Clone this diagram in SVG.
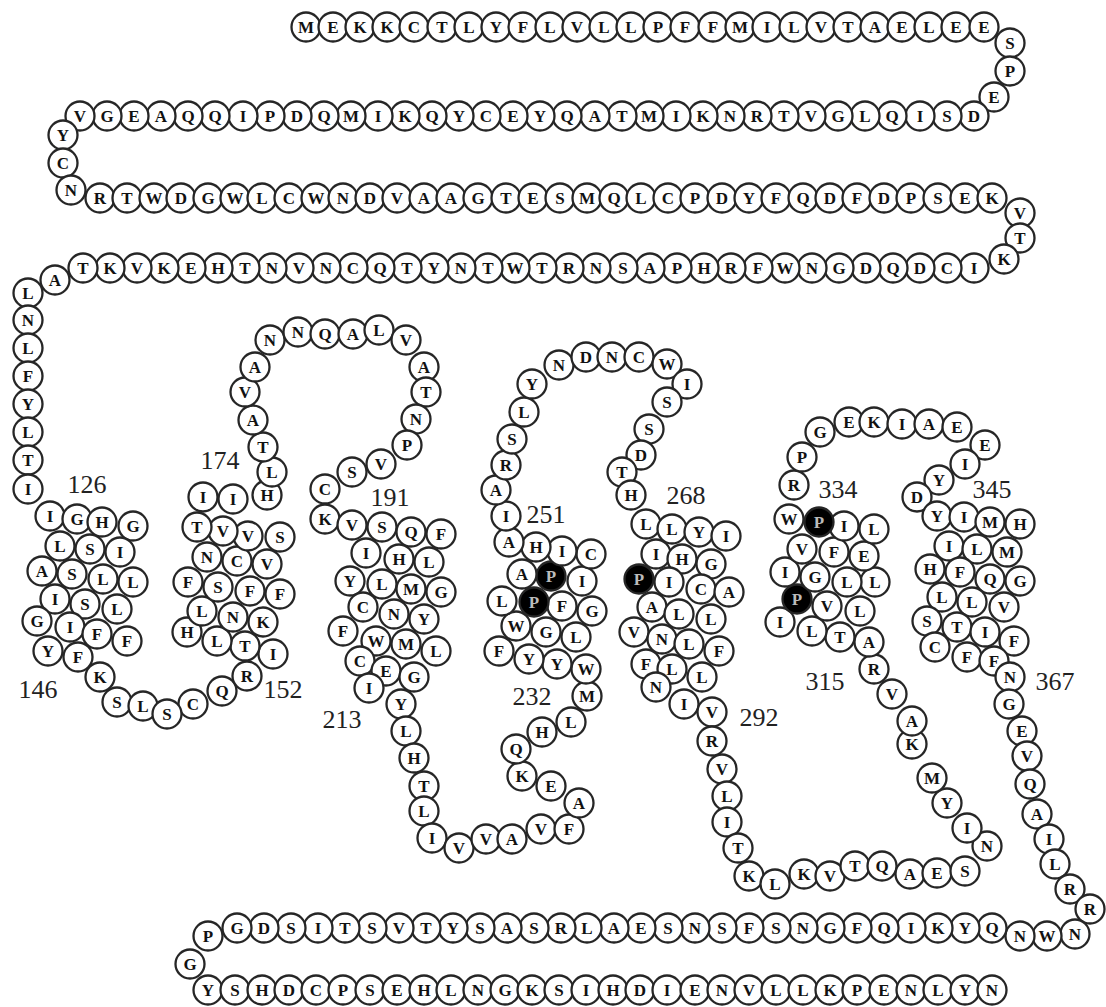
<svg xmlns="http://www.w3.org/2000/svg" width="1106" height="1007" viewBox="0 0 1106 1007">
<style>
circle{fill:#fff;stroke:#262626;stroke-width:2.3}
text{font-family:"Liberation Serif",serif;font-weight:bold;font-size:17px;text-anchor:middle;dominant-baseline:central;fill:#111}
.b circle{fill:#000}
.b text{fill:#bbb}
.l{font-weight:normal;font-size:26px;fill:#222}
</style>
<rect width="1106" height="1007" fill="#fff"/>
<g id="connectors"></g>
<g id="residues">
<g id="r1" transform="translate(306 27)"><circle r="14.5"/><text>M</text></g>
<g id="r2" transform="translate(333 27)"><circle r="14.5"/><text>E</text></g>
<g id="r3" transform="translate(360 27)"><circle r="14.5"/><text>K</text></g>
<g id="r4" transform="translate(387 27)"><circle r="14.5"/><text>K</text></g>
<g id="r5" transform="translate(414 27)"><circle r="14.5"/><text>C</text></g>
<g id="r6" transform="translate(442 27)"><circle r="14.5"/><text>T</text></g>
<g id="r7" transform="translate(469 27)"><circle r="14.5"/><text>L</text></g>
<g id="r8" transform="translate(496 27)"><circle r="14.5"/><text>Y</text></g>
<g id="r9" transform="translate(523 27)"><circle r="14.5"/><text>F</text></g>
<g id="r10" transform="translate(550 27)"><circle r="14.5"/><text>L</text></g>
<g id="r11" transform="translate(577 27)"><circle r="14.5"/><text>V</text></g>
<g id="r12" transform="translate(604 27)"><circle r="14.5"/><text>L</text></g>
<g id="r13" transform="translate(631 27)"><circle r="14.5"/><text>L</text></g>
<g id="r14" transform="translate(658 27)"><circle r="14.5"/><text>P</text></g>
<g id="r15" transform="translate(685 27)"><circle r="14.5"/><text>F</text></g>
<g id="r16" transform="translate(713 27)"><circle r="14.5"/><text>F</text></g>
<g id="r17" transform="translate(740 27)"><circle r="14.5"/><text>M</text></g>
<g id="r18" transform="translate(767 27)"><circle r="14.5"/><text>I</text></g>
<g id="r19" transform="translate(794 27)"><circle r="14.5"/><text>L</text></g>
<g id="r20" transform="translate(821 27)"><circle r="14.5"/><text>V</text></g>
<g id="r21" transform="translate(848 27)"><circle r="14.5"/><text>T</text></g>
<g id="r22" transform="translate(875 27)"><circle r="14.5"/><text>A</text></g>
<g id="r23" transform="translate(902 27)"><circle r="14.5"/><text>E</text></g>
<g id="r24" transform="translate(929 27)"><circle r="14.5"/><text>L</text></g>
<g id="r25" transform="translate(956 27)"><circle r="14.5"/><text>E</text></g>
<g id="r26" transform="translate(984 27)"><circle r="14.5"/><text>E</text></g>
<g id="r27" transform="translate(1010 43)"><circle r="14.5"/><text>S</text></g>
<g id="r28" transform="translate(1010 71)"><circle r="14.5"/><text>P</text></g>
<g id="r29" transform="translate(994 97)"><circle r="14.5"/><text>E</text></g>
<g id="r30" transform="translate(974 116)"><circle r="14.5"/><text>D</text></g>
<g id="r31" transform="translate(947 116)"><circle r="14.5"/><text>S</text></g>
<g id="r32" transform="translate(920 116)"><circle r="14.5"/><text>I</text></g>
<g id="r33" transform="translate(892 116)"><circle r="14.5"/><text>Q</text></g>
<g id="r34" transform="translate(865 116)"><circle r="14.5"/><text>L</text></g>
<g id="r35" transform="translate(838 116)"><circle r="14.5"/><text>G</text></g>
<g id="r36" transform="translate(811 116)"><circle r="14.5"/><text>V</text></g>
<g id="r37" transform="translate(784 116)"><circle r="14.5"/><text>T</text></g>
<g id="r38" transform="translate(757 116)"><circle r="14.5"/><text>R</text></g>
<g id="r39" transform="translate(730 116)"><circle r="14.5"/><text>N</text></g>
<g id="r40" transform="translate(703 116)"><circle r="14.5"/><text>K</text></g>
<g id="r41" transform="translate(676 116)"><circle r="14.5"/><text>I</text></g>
<g id="r42" transform="translate(649 116)"><circle r="14.5"/><text>M</text></g>
<g id="r43" transform="translate(622 116)"><circle r="14.5"/><text>T</text></g>
<g id="r44" transform="translate(595 116)"><circle r="14.5"/><text>A</text></g>
<g id="r45" transform="translate(567 116)"><circle r="14.5"/><text>Q</text></g>
<g id="r46" transform="translate(540 116)"><circle r="14.5"/><text>Y</text></g>
<g id="r47" transform="translate(513 116)"><circle r="14.5"/><text>E</text></g>
<g id="r48" transform="translate(486 116)"><circle r="14.5"/><text>C</text></g>
<g id="r49" transform="translate(459 116)"><circle r="14.5"/><text>Y</text></g>
<g id="r50" transform="translate(432 116)"><circle r="14.5"/><text>Q</text></g>
<g id="r51" transform="translate(405 116)"><circle r="14.5"/><text>K</text></g>
<g id="r52" transform="translate(378 116)"><circle r="14.5"/><text>I</text></g>
<g id="r53" transform="translate(351 116)"><circle r="14.5"/><text>M</text></g>
<g id="r54" transform="translate(324 116)"><circle r="14.5"/><text>Q</text></g>
<g id="r55" transform="translate(297 116)"><circle r="14.5"/><text>D</text></g>
<g id="r56" transform="translate(270 116)"><circle r="14.5"/><text>P</text></g>
<g id="r57" transform="translate(243 116)"><circle r="14.5"/><text>I</text></g>
<g id="r58" transform="translate(215 116)"><circle r="14.5"/><text>Q</text></g>
<g id="r59" transform="translate(188 116)"><circle r="14.5"/><text>Q</text></g>
<g id="r60" transform="translate(161 116)"><circle r="14.5"/><text>A</text></g>
<g id="r61" transform="translate(134 116)"><circle r="14.5"/><text>E</text></g>
<g id="r62" transform="translate(107 116)"><circle r="14.5"/><text>G</text></g>
<g id="r63" transform="translate(80 116)"><circle r="14.5"/><text>V</text></g>
<g id="r64" transform="translate(63 135)"><circle r="14.5"/><text>Y</text></g>
<g id="r65" transform="translate(63 163)"><circle r="14.5"/><text>C</text></g>
<g id="r66" transform="translate(71 190)"><circle r="14.5"/><text>N</text></g>
<g id="r67" transform="translate(100 198)"><circle r="14.5"/><text>R</text></g>
<g id="r68" transform="translate(127 198)"><circle r="14.5"/><text>T</text></g>
<g id="r69" transform="translate(154 198)"><circle r="14.5"/><text>W</text></g>
<g id="r70" transform="translate(181 198)"><circle r="14.5"/><text>D</text></g>
<g id="r71" transform="translate(208 198)"><circle r="14.5"/><text>G</text></g>
<g id="r72" transform="translate(235 198)"><circle r="14.5"/><text>W</text></g>
<g id="r73" transform="translate(262 198)"><circle r="14.5"/><text>L</text></g>
<g id="r74" transform="translate(289 198)"><circle r="14.5"/><text>C</text></g>
<g id="r75" transform="translate(316 198)"><circle r="14.5"/><text>W</text></g>
<g id="r76" transform="translate(343 198)"><circle r="14.5"/><text>N</text></g>
<g id="r77" transform="translate(370 198)"><circle r="14.5"/><text>D</text></g>
<g id="r78" transform="translate(397 198)"><circle r="14.5"/><text>V</text></g>
<g id="r79" transform="translate(424 198)"><circle r="14.5"/><text>A</text></g>
<g id="r80" transform="translate(451 198)"><circle r="14.5"/><text>A</text></g>
<g id="r81" transform="translate(478 198)"><circle r="14.5"/><text>G</text></g>
<g id="r82" transform="translate(506 198)"><circle r="14.5"/><text>T</text></g>
<g id="r83" transform="translate(533 198)"><circle r="14.5"/><text>E</text></g>
<g id="r84" transform="translate(560 198)"><circle r="14.5"/><text>S</text></g>
<g id="r85" transform="translate(587 198)"><circle r="14.5"/><text>M</text></g>
<g id="r86" transform="translate(614 198)"><circle r="14.5"/><text>Q</text></g>
<g id="r87" transform="translate(641 198)"><circle r="14.5"/><text>L</text></g>
<g id="r88" transform="translate(668 198)"><circle r="14.5"/><text>C</text></g>
<g id="r89" transform="translate(695 198)"><circle r="14.5"/><text>P</text></g>
<g id="r90" transform="translate(722 198)"><circle r="14.5"/><text>D</text></g>
<g id="r91" transform="translate(749 198)"><circle r="14.5"/><text>Y</text></g>
<g id="r92" transform="translate(776 198)"><circle r="14.5"/><text>F</text></g>
<g id="r93" transform="translate(803 198)"><circle r="14.5"/><text>Q</text></g>
<g id="r94" transform="translate(830 198)"><circle r="14.5"/><text>D</text></g>
<g id="r95" transform="translate(857 198)"><circle r="14.5"/><text>F</text></g>
<g id="r96" transform="translate(884 198)"><circle r="14.5"/><text>D</text></g>
<g id="r97" transform="translate(911 198)"><circle r="14.5"/><text>P</text></g>
<g id="r98" transform="translate(938 198)"><circle r="14.5"/><text>S</text></g>
<g id="r99" transform="translate(965 198)"><circle r="14.5"/><text>E</text></g>
<g id="r100" transform="translate(992 198)"><circle r="14.5"/><text>K</text></g>
<g id="r101" transform="translate(1020 213)"><circle r="14.5"/><text>V</text></g>
<g id="r102" transform="translate(1020 238)"><circle r="14.5"/><text>T</text></g>
<g id="r103" transform="translate(1004 259)"><circle r="14.5"/><text>K</text></g>
<g id="r104" transform="translate(974 268)"><circle r="14.5"/><text>I</text></g>
<g id="r105" transform="translate(947 268)"><circle r="14.5"/><text>C</text></g>
<g id="r106" transform="translate(920 268)"><circle r="14.5"/><text>D</text></g>
<g id="r107" transform="translate(893 268)"><circle r="14.5"/><text>Q</text></g>
<g id="r108" transform="translate(866 268)"><circle r="14.5"/><text>D</text></g>
<g id="r109" transform="translate(839 268)"><circle r="14.5"/><text>G</text></g>
<g id="r110" transform="translate(812 268)"><circle r="14.5"/><text>N</text></g>
<g id="r111" transform="translate(785 268)"><circle r="14.5"/><text>W</text></g>
<g id="r112" transform="translate(758 268)"><circle r="14.5"/><text>F</text></g>
<g id="r113" transform="translate(731 268)"><circle r="14.5"/><text>R</text></g>
<g id="r114" transform="translate(704 268)"><circle r="14.5"/><text>H</text></g>
<g id="r115" transform="translate(677 268)"><circle r="14.5"/><text>P</text></g>
<g id="r116" transform="translate(650 268)"><circle r="14.5"/><text>A</text></g>
<g id="r117" transform="translate(623 268)"><circle r="14.5"/><text>S</text></g>
<g id="r118" transform="translate(596 268)"><circle r="14.5"/><text>N</text></g>
<g id="r119" transform="translate(569 268)"><circle r="14.5"/><text>R</text></g>
<g id="r120" transform="translate(542 268)"><circle r="14.5"/><text>T</text></g>
<g id="r121" transform="translate(515 268)"><circle r="14.5"/><text>W</text></g>
<g id="r122" transform="translate(488 268)"><circle r="14.5"/><text>T</text></g>
<g id="r123" transform="translate(461 268)"><circle r="14.5"/><text>N</text></g>
<g id="r124" transform="translate(434 268)"><circle r="14.5"/><text>Y</text></g>
<g id="r125" transform="translate(407 268)"><circle r="14.5"/><text>T</text></g>
<g id="r126" transform="translate(380 268)"><circle r="14.5"/><text>Q</text></g>
<g id="r127" transform="translate(353 268)"><circle r="14.5"/><text>C</text></g>
<g id="r128" transform="translate(326 268)"><circle r="14.5"/><text>N</text></g>
<g id="r129" transform="translate(299 268)"><circle r="14.5"/><text>V</text></g>
<g id="r130" transform="translate(272 268)"><circle r="14.5"/><text>N</text></g>
<g id="r131" transform="translate(245 268)"><circle r="14.5"/><text>T</text></g>
<g id="r132" transform="translate(218 268)"><circle r="14.5"/><text>H</text></g>
<g id="r133" transform="translate(191 268)"><circle r="14.5"/><text>E</text></g>
<g id="r134" transform="translate(164 268)"><circle r="14.5"/><text>K</text></g>
<g id="r135" transform="translate(137 268)"><circle r="14.5"/><text>V</text></g>
<g id="r136" transform="translate(110 268)"><circle r="14.5"/><text>K</text></g>
<g id="r137" transform="translate(83 268)"><circle r="14.5"/><text>T</text></g>
<g id="r138" transform="translate(55 280)"><circle r="14.5"/><text>A</text></g>
<g id="r139" transform="translate(28 293)"><circle r="14.5"/><text>L</text></g>
<g id="r140" transform="translate(28 320)"><circle r="14.5"/><text>N</text></g>
<g id="r141" transform="translate(28 348)"><circle r="14.5"/><text>L</text></g>
<g id="r142" transform="translate(28 376)"><circle r="14.5"/><text>F</text></g>
<g id="r143" transform="translate(28 404)"><circle r="14.5"/><text>Y</text></g>
<g id="r144" transform="translate(28 432)"><circle r="14.5"/><text>L</text></g>
<g id="r145" transform="translate(28 460)"><circle r="14.5"/><text>T</text></g>
<g id="r146" transform="translate(28 489)"><circle r="14.5"/><text>I</text></g>
<g id="r147" transform="translate(50 516)"><circle r="14.5"/><text>I</text></g>
<g id="r148" transform="translate(77 519)"><circle r="14.5"/><text>G</text></g>
<g id="r149" transform="translate(133 526)"><circle r="14.5"/><text>G</text></g>
<g id="r150" transform="translate(102 522)"><circle r="14.5"/><text>H</text></g>
<g id="r151" transform="translate(60 546)"><circle r="14.5"/><text>L</text></g>
<g id="r152" transform="translate(90 549)"><circle r="14.5"/><text>S</text></g>
<g id="r153" transform="translate(120 552)"><circle r="14.5"/><text>I</text></g>
<g id="r154" transform="translate(42 571)"><circle r="14.5"/><text>A</text></g>
<g id="r155" transform="translate(72 574)"><circle r="14.5"/><text>S</text></g>
<g id="r156" transform="translate(103 579)"><circle r="14.5"/><text>L</text></g>
<g id="r157" transform="translate(133 582)"><circle r="14.5"/><text>L</text></g>
<g id="r158" transform="translate(55 599)"><circle r="14.5"/><text>I</text></g>
<g id="r159" transform="translate(85 604)"><circle r="14.5"/><text>S</text></g>
<g id="r160" transform="translate(117 609)"><circle r="14.5"/><text>L</text></g>
<g id="r161" transform="translate(37 621)"><circle r="14.5"/><text>G</text></g>
<g id="r162" transform="translate(70 627)"><circle r="14.5"/><text>I</text></g>
<g id="r163" transform="translate(97 634)"><circle r="14.5"/><text>F</text></g>
<g id="r164" transform="translate(127 641)"><circle r="14.5"/><text>F</text></g>
<g id="r165" transform="translate(48 651)"><circle r="14.5"/><text>Y</text></g>
<g id="r166" transform="translate(78 657)"><circle r="14.5"/><text>F</text></g>
<g id="r167" transform="translate(100 677)"><circle r="14.5"/><text>K</text></g>
<g id="r168" transform="translate(117 702)"><circle r="14.5"/><text>S</text></g>
<g id="r169" transform="translate(143 706)"><circle r="14.5"/><text>L</text></g>
<g id="r171" transform="translate(193 704)"><circle r="14.5"/><text>C</text></g>
<g id="r170" transform="translate(167 714)"><circle r="14.5"/><text>S</text></g>
<g id="r172" transform="translate(222 691)"><circle r="14.5"/><text>Q</text></g>
<g id="r173" transform="translate(247 676)"><circle r="14.5"/><text>R</text></g>
<g id="r174" transform="translate(273 654)"><circle r="14.5"/><text>I</text></g>
<g id="r175" transform="translate(245 646)"><circle r="14.5"/><text>T</text></g>
<g id="r176" transform="translate(217 641)"><circle r="14.5"/><text>L</text></g>
<g id="r177" transform="translate(187 632)"><circle r="14.5"/><text>H</text></g>
<g id="r178" transform="translate(263 622)"><circle r="14.5"/><text>K</text></g>
<g id="r179" transform="translate(233 617)"><circle r="14.5"/><text>N</text></g>
<g id="r180" transform="translate(202 611)"><circle r="14.5"/><text>L</text></g>
<g id="r181" transform="translate(280 594)"><circle r="14.5"/><text>F</text></g>
<g id="r182" transform="translate(250 591)"><circle r="14.5"/><text>F</text></g>
<g id="r183" transform="translate(218 587)"><circle r="14.5"/><text>S</text></g>
<g id="r184" transform="translate(188 582)"><circle r="14.5"/><text>F</text></g>
<g id="r185" transform="translate(267 564)"><circle r="14.5"/><text>V</text></g>
<g id="r186" transform="translate(237 561)"><circle r="14.5"/><text>C</text></g>
<g id="r187" transform="translate(207 557)"><circle r="14.5"/><text>N</text></g>
<g id="r188" transform="translate(280 537)"><circle r="14.5"/><text>S</text></g>
<g id="r189" transform="translate(248 536)"><circle r="14.5"/><text>V</text></g>
<g id="r190" transform="translate(223 531)"><circle r="14.5"/><text>V</text></g>
<g id="r191" transform="translate(197 527)"><circle r="14.5"/><text>T</text></g>
<g id="r192" transform="translate(203 497)"><circle r="14.5"/><text>I</text></g>
<g id="r193" transform="translate(233 499)"><circle r="14.5"/><text>I</text></g>
<g id="r194" transform="translate(267 495)"><circle r="14.5"/><text>H</text></g>
<g id="r195" transform="translate(272 472)"><circle r="14.5"/><text>L</text></g>
<g id="r196" transform="translate(263 447)"><circle r="14.5"/><text>T</text></g>
<g id="r197" transform="translate(253 420)"><circle r="14.5"/><text>A</text></g>
<g id="r198" transform="translate(245 392)"><circle r="14.5"/><text>V</text></g>
<g id="r199" transform="translate(255 367)"><circle r="14.5"/><text>A</text></g>
<g id="r200" transform="translate(270 340)"><circle r="14.5"/><text>N</text></g>
<g id="r201" transform="translate(298 332)"><circle r="14.5"/><text>N</text></g>
<g id="r202" transform="translate(325 334)"><circle r="14.5"/><text>Q</text></g>
<g id="r203" transform="translate(353 334)"><circle r="14.5"/><text>A</text></g>
<g id="r204" transform="translate(379 330)"><circle r="14.5"/><text>L</text></g>
<g id="r205" transform="translate(406 340)"><circle r="14.5"/><text>V</text></g>
<g id="r206" transform="translate(424 367)"><circle r="14.5"/><text>A</text></g>
<g id="r207" transform="translate(426 392)"><circle r="14.5"/><text>T</text></g>
<g id="r208" transform="translate(416 419)"><circle r="14.5"/><text>N</text></g>
<g id="r209" transform="translate(407 445)"><circle r="14.5"/><text>P</text></g>
<g id="r210" transform="translate(381 464)"><circle r="14.5"/><text>V</text></g>
<g id="r211" transform="translate(352 472)"><circle r="14.5"/><text>S</text></g>
<g id="r212" transform="translate(325 489)"><circle r="14.5"/><text>C</text></g>
<g id="r213" transform="translate(325 519)"><circle r="14.5"/><text>K</text></g>
<g id="r214" transform="translate(352 525)"><circle r="14.5"/><text>V</text></g>
<g id="r215" transform="translate(382 527)"><circle r="14.5"/><text>S</text></g>
<g id="r216" transform="translate(411 532)"><circle r="14.5"/><text>Q</text></g>
<g id="r217" transform="translate(441 534)"><circle r="14.5"/><text>F</text></g>
<g id="r218" transform="translate(366 553)"><circle r="14.5"/><text>I</text></g>
<g id="r219" transform="translate(399 559)"><circle r="14.5"/><text>H</text></g>
<g id="r220" transform="translate(429 562)"><circle r="14.5"/><text>L</text></g>
<g id="r221" transform="translate(350 581)"><circle r="14.5"/><text>Y</text></g>
<g id="r222" transform="translate(382 584)"><circle r="14.5"/><text>L</text></g>
<g id="r223" transform="translate(411 589)"><circle r="14.5"/><text>M</text></g>
<g id="r224" transform="translate(441 592)"><circle r="14.5"/><text>G</text></g>
<g id="r225" transform="translate(363 607)"><circle r="14.5"/><text>C</text></g>
<g id="r226" transform="translate(394 614)"><circle r="14.5"/><text>N</text></g>
<g id="r227" transform="translate(424 619)"><circle r="14.5"/><text>Y</text></g>
<g id="r228" transform="translate(343 631)"><circle r="14.5"/><text>F</text></g>
<g id="r229" transform="translate(376 641)"><circle r="14.5"/><text>W</text></g>
<g id="r230" transform="translate(406 644)"><circle r="14.5"/><text>M</text></g>
<g id="r231" transform="translate(436 651)"><circle r="14.5"/><text>L</text></g>
<g id="r232" transform="translate(360 661)"><circle r="14.5"/><text>C</text></g>
<g id="r233" transform="translate(386 671)"><circle r="14.5"/><text>E</text></g>
<g id="r234" transform="translate(414 677)"><circle r="14.5"/><text>G</text></g>
<g id="r235" transform="translate(369 688)"><circle r="14.5"/><text>I</text></g>
<g id="r236" transform="translate(401 704)"><circle r="14.5"/><text>Y</text></g>
<g id="r237" transform="translate(406 731)"><circle r="14.5"/><text>L</text></g>
<g id="r238" transform="translate(414 758)"><circle r="14.5"/><text>H</text></g>
<g id="r239" transform="translate(424 786)"><circle r="14.5"/><text>T</text></g>
<g id="r240" transform="translate(424 811)"><circle r="14.5"/><text>L</text></g>
<g id="r241" transform="translate(432 838)"><circle r="14.5"/><text>I</text></g>
<g id="r242" transform="translate(459 848)"><circle r="14.5"/><text>V</text></g>
<g id="r243" transform="translate(486 839)"><circle r="14.5"/><text>V</text></g>
<g id="r244" transform="translate(512 839)"><circle r="14.5"/><text>A</text></g>
<g id="r245" transform="translate(541 829)"><circle r="14.5"/><text>V</text></g>
<g id="r246" transform="translate(569 829)"><circle r="14.5"/><text>F</text></g>
<g id="r247" transform="translate(579 803)"><circle r="14.5"/><text>A</text></g>
<g id="r248" transform="translate(551 786)"><circle r="14.5"/><text>E</text></g>
<g id="r249" transform="translate(522 776)"><circle r="14.5"/><text>K</text></g>
<g id="r250" transform="translate(516 749)"><circle r="14.5"/><text>Q</text></g>
<g id="r251" transform="translate(542 732)"><circle r="14.5"/><text>H</text></g>
<g id="r252" transform="translate(571 722)"><circle r="14.5"/><text>L</text></g>
<g id="r253" transform="translate(587 696)"><circle r="14.5"/><text>M</text></g>
<g id="r254" transform="translate(586 669)"><circle r="14.5"/><text>W</text></g>
<g id="r255" transform="translate(557 664)"><circle r="14.5"/><text>Y</text></g>
<g id="r256" transform="translate(529 659)"><circle r="14.5"/><text>Y</text></g>
<g id="r257" transform="translate(499 651)"><circle r="14.5"/><text>F</text></g>
<g id="r258" transform="translate(576 637)"><circle r="14.5"/><text>L</text></g>
<g id="r259" transform="translate(546 632)"><circle r="14.5"/><text>G</text></g>
<g id="r260" transform="translate(516 626)"><circle r="14.5"/><text>W</text></g>
<g id="r261" transform="translate(592 611)"><circle r="14.5"/><text>G</text></g>
<g id="r262" transform="translate(562 606)"><circle r="14.5"/><text>F</text></g>
<g id="r263" class="b" transform="translate(534 602)"><circle r="14.5"/><text>P</text></g>
<g id="r264" transform="translate(502 601)"><circle r="14.5"/><text>L</text></g>
<g id="r265" transform="translate(582 581)"><circle r="14.5"/><text>I</text></g>
<g id="r266" class="b" transform="translate(551 576)"><circle r="14.5"/><text>P</text></g>
<g id="r267" transform="translate(522 574)"><circle r="14.5"/><text>A</text></g>
<g id="r268" transform="translate(591 554)"><circle r="14.5"/><text>C</text></g>
<g id="r269" transform="translate(562 551)"><circle r="14.5"/><text>I</text></g>
<g id="r270" transform="translate(536 547)"><circle r="14.5"/><text>H</text></g>
<g id="r271" transform="translate(509 542)"><circle r="14.5"/><text>A</text></g>
<g id="r272" transform="translate(506 516)"><circle r="14.5"/><text>I</text></g>
<g id="r273" transform="translate(496 490)"><circle r="14.5"/><text>A</text></g>
<g id="r274" transform="translate(506 465)"><circle r="14.5"/><text>R</text></g>
<g id="r275" transform="translate(512 439)"><circle r="14.5"/><text>S</text></g>
<g id="r276" transform="translate(524 412)"><circle r="14.5"/><text>L</text></g>
<g id="r277" transform="translate(532 384)"><circle r="14.5"/><text>Y</text></g>
<g id="r278" transform="translate(559 365)"><circle r="14.5"/><text>N</text></g>
<g id="r279" transform="translate(586 357)"><circle r="14.5"/><text>D</text></g>
<g id="r280" transform="translate(612 357)"><circle r="14.5"/><text>N</text></g>
<g id="r281" transform="translate(639 357)"><circle r="14.5"/><text>C</text></g>
<g id="r282" transform="translate(667 364)"><circle r="14.5"/><text>W</text></g>
<g id="r283" transform="translate(687 384)"><circle r="14.5"/><text>I</text></g>
<g id="r284" transform="translate(667 402)"><circle r="14.5"/><text>S</text></g>
<g id="r285" transform="translate(649 429)"><circle r="14.5"/><text>S</text></g>
<g id="r286" transform="translate(641 455)"><circle r="14.5"/><text>D</text></g>
<g id="r287" transform="translate(622 472)"><circle r="14.5"/><text>T</text></g>
<g id="r288" transform="translate(631 495)"><circle r="14.5"/><text>H</text></g>
<g id="r289" transform="translate(646 524)"><circle r="14.5"/><text>L</text></g>
<g id="r290" transform="translate(672 529)"><circle r="14.5"/><text>L</text></g>
<g id="r291" transform="translate(699 532)"><circle r="14.5"/><text>Y</text></g>
<g id="r292" transform="translate(726 536)"><circle r="14.5"/><text>I</text></g>
<g id="r293" transform="translate(656 554)"><circle r="14.5"/><text>I</text></g>
<g id="r294" transform="translate(682 559)"><circle r="14.5"/><text>H</text></g>
<g id="r295" transform="translate(711 564)"><circle r="14.5"/><text>G</text></g>
<g id="r296" class="b" transform="translate(639 579)"><circle r="14.5"/><text>P</text></g>
<g id="r297" transform="translate(669 582)"><circle r="14.5"/><text>I</text></g>
<g id="r298" transform="translate(701 589)"><circle r="14.5"/><text>C</text></g>
<g id="r299" transform="translate(729 592)"><circle r="14.5"/><text>A</text></g>
<g id="r300" transform="translate(652 607)"><circle r="14.5"/><text>A</text></g>
<g id="r301" transform="translate(679 614)"><circle r="14.5"/><text>L</text></g>
<g id="r302" transform="translate(711 619)"><circle r="14.5"/><text>L</text></g>
<g id="r303" transform="translate(634 632)"><circle r="14.5"/><text>V</text></g>
<g id="r304" transform="translate(662 639)"><circle r="14.5"/><text>N</text></g>
<g id="r305" transform="translate(689 644)"><circle r="14.5"/><text>L</text></g>
<g id="r306" transform="translate(719 651)"><circle r="14.5"/><text>F</text></g>
<g id="r307" transform="translate(646 664)"><circle r="14.5"/><text>F</text></g>
<g id="r308" transform="translate(672 669)"><circle r="14.5"/><text>L</text></g>
<g id="r309" transform="translate(702 677)"><circle r="14.5"/><text>L</text></g>
<g id="r310" transform="translate(656 687)"><circle r="14.5"/><text>N</text></g>
<g id="r311" transform="translate(684 704)"><circle r="14.5"/><text>I</text></g>
<g id="r312" transform="translate(712 712)"><circle r="14.5"/><text>V</text></g>
<g id="r313" transform="translate(712 741)"><circle r="14.5"/><text>R</text></g>
<g id="r314" transform="translate(722 769)"><circle r="14.5"/><text>V</text></g>
<g id="r315" transform="translate(727 796)"><circle r="14.5"/><text>L</text></g>
<g id="r316" transform="translate(727 822)"><circle r="14.5"/><text>I</text></g>
<g id="r317" transform="translate(738 848)"><circle r="14.5"/><text>T</text></g>
<g id="r318" transform="translate(749 876)"><circle r="14.5"/><text>K</text></g>
<g id="r319" transform="translate(775 884)"><circle r="14.5"/><text>L</text></g>
<g id="r320" transform="translate(804 874)"><circle r="14.5"/><text>K</text></g>
<g id="r321" transform="translate(830 876)"><circle r="14.5"/><text>V</text></g>
<g id="r322" transform="translate(855 866)"><circle r="14.5"/><text>T</text></g>
<g id="r323" transform="translate(882 866)"><circle r="14.5"/><text>Q</text></g>
<g id="r324" transform="translate(910 874)"><circle r="14.5"/><text>A</text></g>
<g id="r325" transform="translate(937 873)"><circle r="14.5"/><text>E</text></g>
<g id="r326" transform="translate(965 871)"><circle r="14.5"/><text>S</text></g>
<g id="r327" transform="translate(987 846)"><circle r="14.5"/><text>N</text></g>
<g id="r328" transform="translate(967 828)"><circle r="14.5"/><text>I</text></g>
<g id="r329" transform="translate(947 803)"><circle r="14.5"/><text>Y</text></g>
<g id="r330" transform="translate(932 778)"><circle r="14.5"/><text>M</text></g>
<g id="r331" transform="translate(912 744)"><circle r="14.5"/><text>K</text></g>
<g id="r332" transform="translate(912 721)"><circle r="14.5"/><text>A</text></g>
<g id="r333" transform="translate(892 694)"><circle r="14.5"/><text>V</text></g>
<g id="r334" transform="translate(874 669)"><circle r="14.5"/><text>R</text></g>
<g id="r335" transform="translate(869 642)"><circle r="14.5"/><text>A</text></g>
<g id="r336" transform="translate(840 637)"><circle r="14.5"/><text>T</text></g>
<g id="r337" transform="translate(812 631)"><circle r="14.5"/><text>L</text></g>
<g id="r338" transform="translate(780 622)"><circle r="14.5"/><text>I</text></g>
<g id="r339" transform="translate(860 611)"><circle r="14.5"/><text>L</text></g>
<g id="r340" transform="translate(827 606)"><circle r="14.5"/><text>V</text></g>
<g id="r341" class="b" transform="translate(797 599)"><circle r="14.5"/><text>P</text></g>
<g id="r342" transform="translate(875 582)"><circle r="14.5"/><text>L</text></g>
<g id="r343" transform="translate(847 582)"><circle r="14.5"/><text>L</text></g>
<g id="r344" transform="translate(815 577)"><circle r="14.5"/><text>G</text></g>
<g id="r345" transform="translate(785 572)"><circle r="14.5"/><text>I</text></g>
<g id="r346" transform="translate(864 556)"><circle r="14.5"/><text>E</text></g>
<g id="r347" transform="translate(834 552)"><circle r="14.5"/><text>F</text></g>
<g id="r348" transform="translate(802 549)"><circle r="14.5"/><text>V</text></g>
<g id="r349" transform="translate(874 529)"><circle r="14.5"/><text>L</text></g>
<g id="r350" transform="translate(844 526)"><circle r="14.5"/><text>I</text></g>
<g id="r351" class="b" transform="translate(819 522)"><circle r="14.5"/><text>P</text></g>
<g id="r352" transform="translate(789 519)"><circle r="14.5"/><text>W</text></g>
<g id="r353" transform="translate(794 485)"><circle r="14.5"/><text>R</text></g>
<g id="r354" transform="translate(802 457)"><circle r="14.5"/><text>P</text></g>
<g id="r355" transform="translate(820 432)"><circle r="14.5"/><text>G</text></g>
<g id="r356" transform="translate(849 422)"><circle r="14.5"/><text>E</text></g>
<g id="r357" transform="translate(874 422)"><circle r="14.5"/><text>K</text></g>
<g id="r358" transform="translate(902 424)"><circle r="14.5"/><text>I</text></g>
<g id="r359" transform="translate(929 424)"><circle r="14.5"/><text>A</text></g>
<g id="r360" transform="translate(957 427)"><circle r="14.5"/><text>E</text></g>
<g id="r361" transform="translate(985 445)"><circle r="14.5"/><text>E</text></g>
<g id="r362" transform="translate(965 464)"><circle r="14.5"/><text>I</text></g>
<g id="r363" transform="translate(939 480)"><circle r="14.5"/><text>Y</text></g>
<g id="r364" transform="translate(917 497)"><circle r="14.5"/><text>D</text></g>
<g id="r365" transform="translate(937 516)"><circle r="14.5"/><text>Y</text></g>
<g id="r366" transform="translate(964 517)"><circle r="14.5"/><text>I</text></g>
<g id="r367" transform="translate(990 522)"><circle r="14.5"/><text>M</text></g>
<g id="r368" transform="translate(1020 524)"><circle r="14.5"/><text>H</text></g>
<g id="r369" transform="translate(949 546)"><circle r="14.5"/><text>I</text></g>
<g id="r370" transform="translate(977 549)"><circle r="14.5"/><text>L</text></g>
<g id="r371" transform="translate(1007 552)"><circle r="14.5"/><text>M</text></g>
<g id="r372" transform="translate(930 569)"><circle r="14.5"/><text>H</text></g>
<g id="r373" transform="translate(960 572)"><circle r="14.5"/><text>F</text></g>
<g id="r374" transform="translate(990 579)"><circle r="14.5"/><text>Q</text></g>
<g id="r375" transform="translate(1020 581)"><circle r="14.5"/><text>G</text></g>
<g id="r376" transform="translate(942 597)"><circle r="14.5"/><text>L</text></g>
<g id="r377" transform="translate(972 602)"><circle r="14.5"/><text>L</text></g>
<g id="r378" transform="translate(1004 607)"><circle r="14.5"/><text>V</text></g>
<g id="r379" transform="translate(927 621)"><circle r="14.5"/><text>S</text></g>
<g id="r380" transform="translate(957 627)"><circle r="14.5"/><text>T</text></g>
<g id="r381" transform="translate(985 632)"><circle r="14.5"/><text>I</text></g>
<g id="r382" transform="translate(1014 641)"><circle r="14.5"/><text>F</text></g>
<g id="r383" transform="translate(935 647)"><circle r="14.5"/><text>C</text></g>
<g id="r384" transform="translate(967 657)"><circle r="14.5"/><text>F</text></g>
<g id="r385" transform="translate(994 661)"><circle r="14.5"/><text>F</text></g>
<g id="r386" transform="translate(1010 677)"><circle r="14.5"/><text>N</text></g>
<g id="r387" transform="translate(1009 704)"><circle r="14.5"/><text>G</text></g>
<g id="r388" transform="translate(1022 731)"><circle r="14.5"/><text>E</text></g>
<g id="r389" transform="translate(1027 756)"><circle r="14.5"/><text>V</text></g>
<g id="r390" transform="translate(1030 784)"><circle r="14.5"/><text>Q</text></g>
<g id="r391" transform="translate(1037 814)"><circle r="14.5"/><text>A</text></g>
<g id="r392" transform="translate(1049 839)"><circle r="14.5"/><text>I</text></g>
<g id="r393" transform="translate(1055 864)"><circle r="14.5"/><text>L</text></g>
<g id="r394" transform="translate(1070 889)"><circle r="14.5"/><text>R</text></g>
<g id="r395" transform="translate(1090 909)"><circle r="14.5"/><text>R</text></g>
<g id="r396" transform="translate(1075 934)"><circle r="14.5"/><text>N</text></g>
<g id="r397" transform="translate(1047 936)"><circle r="14.5"/><text>W</text></g>
<g id="r398" transform="translate(1020 936)"><circle r="14.5"/><text>N</text></g>
<g id="r399" transform="translate(992 928)"><circle r="14.5"/><text>Q</text></g>
<g id="r400" transform="translate(965 928)"><circle r="14.5"/><text>Y</text></g>
<g id="r401" transform="translate(938 928)"><circle r="14.5"/><text>K</text></g>
<g id="r402" transform="translate(911 928)"><circle r="14.5"/><text>I</text></g>
<g id="r403" transform="translate(884 928)"><circle r="14.5"/><text>Q</text></g>
<g id="r404" transform="translate(857 928)"><circle r="14.5"/><text>F</text></g>
<g id="r405" transform="translate(830 928)"><circle r="14.5"/><text>G</text></g>
<g id="r406" transform="translate(803 928)"><circle r="14.5"/><text>N</text></g>
<g id="r407" transform="translate(776 928)"><circle r="14.5"/><text>S</text></g>
<g id="r408" transform="translate(749 928)"><circle r="14.5"/><text>F</text></g>
<g id="r409" transform="translate(722 928)"><circle r="14.5"/><text>S</text></g>
<g id="r410" transform="translate(695 928)"><circle r="14.5"/><text>N</text></g>
<g id="r411" transform="translate(668 928)"><circle r="14.5"/><text>S</text></g>
<g id="r412" transform="translate(641 928)"><circle r="14.5"/><text>E</text></g>
<g id="r413" transform="translate(614 928)"><circle r="14.5"/><text>A</text></g>
<g id="r414" transform="translate(587 928)"><circle r="14.5"/><text>L</text></g>
<g id="r415" transform="translate(561 928)"><circle r="14.5"/><text>R</text></g>
<g id="r416" transform="translate(534 928)"><circle r="14.5"/><text>S</text></g>
<g id="r417" transform="translate(507 928)"><circle r="14.5"/><text>A</text></g>
<g id="r418" transform="translate(480 928)"><circle r="14.5"/><text>S</text></g>
<g id="r419" transform="translate(453 928)"><circle r="14.5"/><text>Y</text></g>
<g id="r420" transform="translate(426 928)"><circle r="14.5"/><text>T</text></g>
<g id="r421" transform="translate(399 928)"><circle r="14.5"/><text>V</text></g>
<g id="r422" transform="translate(372 928)"><circle r="14.5"/><text>S</text></g>
<g id="r423" transform="translate(345 928)"><circle r="14.5"/><text>T</text></g>
<g id="r424" transform="translate(318 928)"><circle r="14.5"/><text>I</text></g>
<g id="r425" transform="translate(291 928)"><circle r="14.5"/><text>S</text></g>
<g id="r426" transform="translate(264 928)"><circle r="14.5"/><text>D</text></g>
<g id="r427" transform="translate(237 928)"><circle r="14.5"/><text>G</text></g>
<g id="r428" transform="translate(208 936)"><circle r="14.5"/><text>P</text></g>
<g id="r429" transform="translate(190 964)"><circle r="14.5"/><text>G</text></g>
<g id="r430" transform="translate(208 990)"><circle r="14.5"/><text>Y</text></g>
<g id="r431" transform="translate(235 990)"><circle r="14.5"/><text>S</text></g>
<g id="r432" transform="translate(262 990)"><circle r="14.5"/><text>H</text></g>
<g id="r433" transform="translate(289 990)"><circle r="14.5"/><text>D</text></g>
<g id="r434" transform="translate(316 990)"><circle r="14.5"/><text>C</text></g>
<g id="r435" transform="translate(343 990)"><circle r="14.5"/><text>P</text></g>
<g id="r436" transform="translate(370 990)"><circle r="14.5"/><text>S</text></g>
<g id="r437" transform="translate(397 990)"><circle r="14.5"/><text>E</text></g>
<g id="r438" transform="translate(424 990)"><circle r="14.5"/><text>H</text></g>
<g id="r439" transform="translate(451 990)"><circle r="14.5"/><text>L</text></g>
<g id="r440" transform="translate(478 990)"><circle r="14.5"/><text>N</text></g>
<g id="r441" transform="translate(505 990)"><circle r="14.5"/><text>G</text></g>
<g id="r442" transform="translate(532 990)"><circle r="14.5"/><text>K</text></g>
<g id="r443" transform="translate(559 990)"><circle r="14.5"/><text>S</text></g>
<g id="r444" transform="translate(586 990)"><circle r="14.5"/><text>I</text></g>
<g id="r445" transform="translate(613 990)"><circle r="14.5"/><text>H</text></g>
<g id="r446" transform="translate(640 990)"><circle r="14.5"/><text>D</text></g>
<g id="r447" transform="translate(667 990)"><circle r="14.5"/><text>I</text></g>
<g id="r448" transform="translate(695 990)"><circle r="14.5"/><text>E</text></g>
<g id="r449" transform="translate(722 990)"><circle r="14.5"/><text>N</text></g>
<g id="r450" transform="translate(749 990)"><circle r="14.5"/><text>V</text></g>
<g id="r451" transform="translate(776 990)"><circle r="14.5"/><text>L</text></g>
<g id="r452" transform="translate(803 990)"><circle r="14.5"/><text>L</text></g>
<g id="r453" transform="translate(830 990)"><circle r="14.5"/><text>K</text></g>
<g id="r454" transform="translate(857 990)"><circle r="14.5"/><text>P</text></g>
<g id="r455" transform="translate(884 990)"><circle r="14.5"/><text>E</text></g>
<g id="r456" transform="translate(911 990)"><circle r="14.5"/><text>N</text></g>
<g id="r457" transform="translate(938 990)"><circle r="14.5"/><text>L</text></g>
<g id="r458" transform="translate(965 990)"><circle r="14.5"/><text>Y</text></g>
<g id="r459" transform="translate(992 990)"><circle r="14.5"/><text>N</text></g>
</g>
<g id="labels">
<text class="l" x="87" y="484">126</text>
<text class="l" x="220" y="460">174</text>
<text class="l" x="38" y="689">146</text>
<text class="l" x="283" y="689">152</text>
<text class="l" x="390" y="497">191</text>
<text class="l" x="342" y="719">213</text>
<text class="l" x="546" y="514">251</text>
<text class="l" x="532" y="696">232</text>
<text class="l" x="686" y="495">268</text>
<text class="l" x="759" y="717">292</text>
<text class="l" x="825" y="681">315</text>
<text class="l" x="838" y="489">334</text>
<text class="l" x="992" y="489">345</text>
<text class="l" x="1055" y="681">367</text>
</g>
</svg>
